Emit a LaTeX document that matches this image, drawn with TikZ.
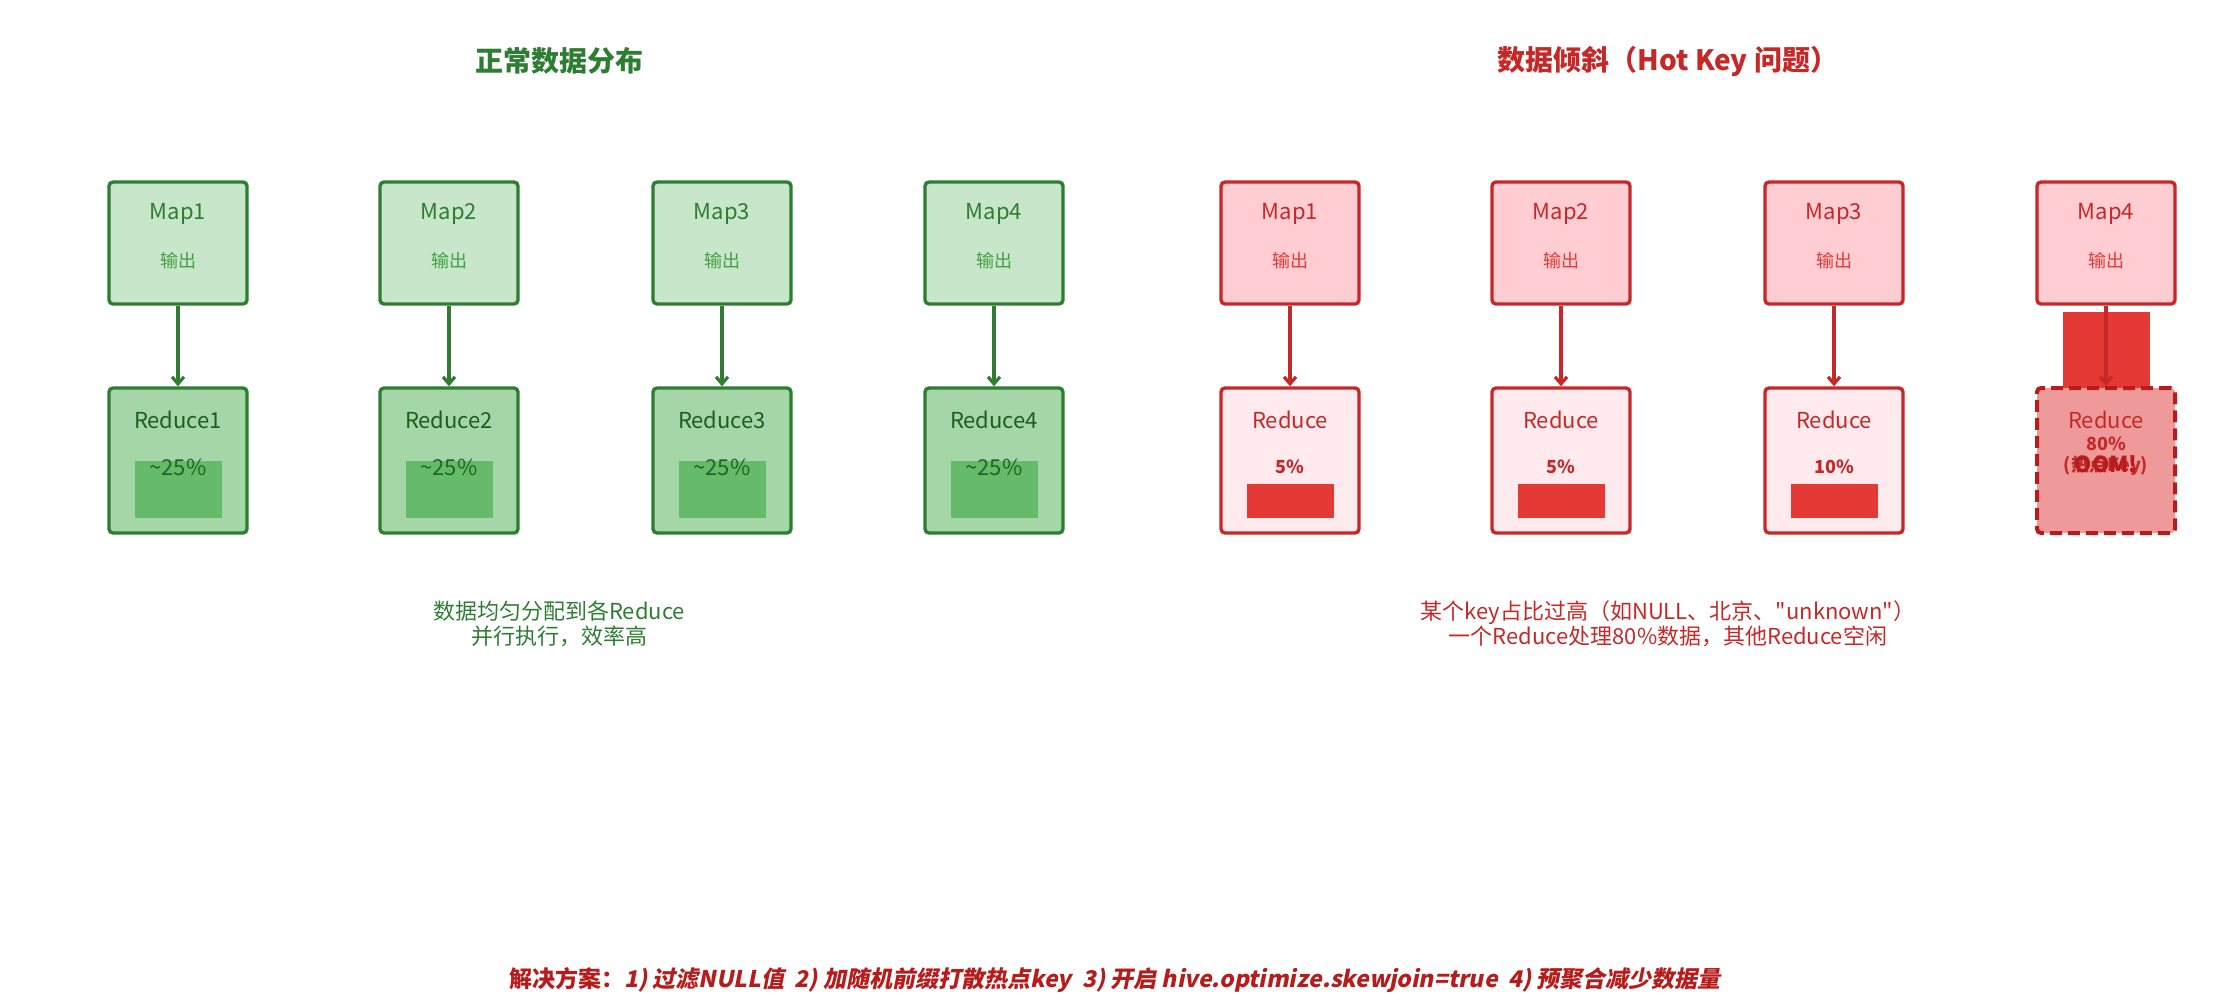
\documentclass[tikz,border=0pt]{standalone}
\usetikzlibrary{arrows.meta}
\usepackage{fontspec}
\setmainfont{Noto Sans CJK SC}
\newfontfamily\bifont{Noto Sans CJK SC}[FakeSlant=0.2]
\newfontfamily\qf{Noto Sans CJK SC}
\definecolor{gd}{HTML}{2E7D32}\definecolor{gf}{HTML}{C8E6C9}\definecolor{gr}{HTML}{A5D6A7}
\definecolor{gb}{HTML}{66BB6A}\definecolor{gt}{HTML}{1B5E20}\definecolor{gl}{HTML}{43A047}
\definecolor{rd}{HTML}{C62828}\definecolor{rf}{HTML}{FFCDD2}\definecolor{rr}{HTML}{FFEBEE}
\definecolor{rb}{HTML}{E53935}\definecolor{rh}{HTML}{EF9A9A}\definecolor{rk}{HTML}{B71C1C}
\begin{document}
\begin{tikzpicture}[x=0.5pt,y=-0.5pt,
 box/.style={draw,line width=1.7pt,rounded corners=2pt,minimum width=69pt},
 gmap/.style={box,draw=gd,fill=gf,minimum height=61pt},
 gred/.style={box,draw=gd,fill=gr,minimum height=72.5pt},
 rmap/.style={box,draw=rd,fill=rf,minimum height=61pt},
 rred/.style={box,draw=rd,fill=rr,minimum height=72.5pt},
 arr/.style={line width=1.6pt,-{Straight Barb[length=3.5pt,width=6pt]}},
 t/.style={font=\fontsize{11}{13}\selectfont},
 s/.style={font=\fontsize{9}{11}\selectfont}]
\useasboundingbox (0,0) rectangle (2230,1007);
\node[font=\fontsize{14}{16}\selectfont\bfseries,text=gd] (tl) at (559,61) {正常数据分布};
\node[font=\fontsize{14}{16}\selectfont\bfseries,text=rd] (tr) at (1668,61) {数据倾斜（Hot Key 问题）};
\foreach \i/\x in {1/178,2/449,3/722,4/994}{
 \node[gmap] (gm\i) at (\x,243) {};
 \node[t,text=gd] at (\x,214) {Map\i};
 \node[s,text=gl] at (\x,261) {输出};
 \node[gred] (gr\i) at (\x,460.5) {};
 \fill[gb] (\x-43.5,461) rectangle (\x+43.5,518);
 \node[t,text=gt] at (\x,420) {Reduce\i};
 \node[t,text=gd!80!black] at (\x,467) {\textasciitilde25\%};
 \draw[arr,draw=gd] (gm\i) -- (gr\i);
}
\foreach \i/\x/\p in {1/1290/5,2/1561/5,3/1834/10}{
 \node[rmap] (rm\i) at (\x,243) {};
 \node[t,text=rd] at (\x,214) {Map\i};
 \node[s,text=rb] at (\x,261) {输出};
 \node[rred] (rr\i) at (\x,460.5) {};
 \fill[rb] (\x-43.5,484) rectangle (\x+43.5,518);
 \node[t,text=rd] at (\x,420) {Reduce};
 \node[s,text=rd,font=\fontsize{9}{11}\selectfont\bfseries] at (\x,467) {\p\%};
 \draw[arr,draw=rd] (rm\i) -- (rr\i);
}
\node[rmap] (rm4) at (2106,243) {};
\node[t,text=rd] at (2106,214) {Map4};
\node[s,text=rb] at (2106,261) {输出};
\fill[rb] (2063,312) rectangle (2150,390);
\node[box,draw=rk,fill=rh,minimum height=72.5pt,dash pattern=on 6pt off 3pt,line width=2pt] (rr4) at (2106,460.5) {};
\draw[arr,draw=rd] (rm4) -- (rr4);
\node[t,text=rd] at (2106,420) {Reduce};
\node[text=rd,font=\fontsize{9}{11}\selectfont\bfseries] at (2106,444) {80\%};
\node[text=rd,font=\fontsize{9}{11}\selectfont\bfseries] at (2106,466) {(热点Key)};
\node[text=rk,font=\fontsize{11}{13}\selectfont\bfseries] at (2106,464) {OOM!};
\node[t,text=gd,align=center,font=\fontsize{11}{12.5}\selectfont] (dl) at (559,624) {数据均匀分配到各Reduce\\并行执行，效率高};
\node[t,text=rd,align=center,font=\fontsize{11}{12.5}\selectfont] (dr) at (1668,624) {某个key占比过高（如NULL、北京、{\qf"}unknown{\qf"}）\\一个Reduce处理80\%数据，其他Reduce空闲};
\node[text=rk,font=\fontsize{11.5}{13}\selectfont\bfseries] (sol) at (1115,980) {解决方案：\bifont 1) 过滤NULL值\ \ 2) 加随机前缀打散热点key\ \ 3) 开启 hive.optimize.skewjoin=true\ \ 4) 预聚合减少数据量};
\end{tikzpicture}
\end{document}
